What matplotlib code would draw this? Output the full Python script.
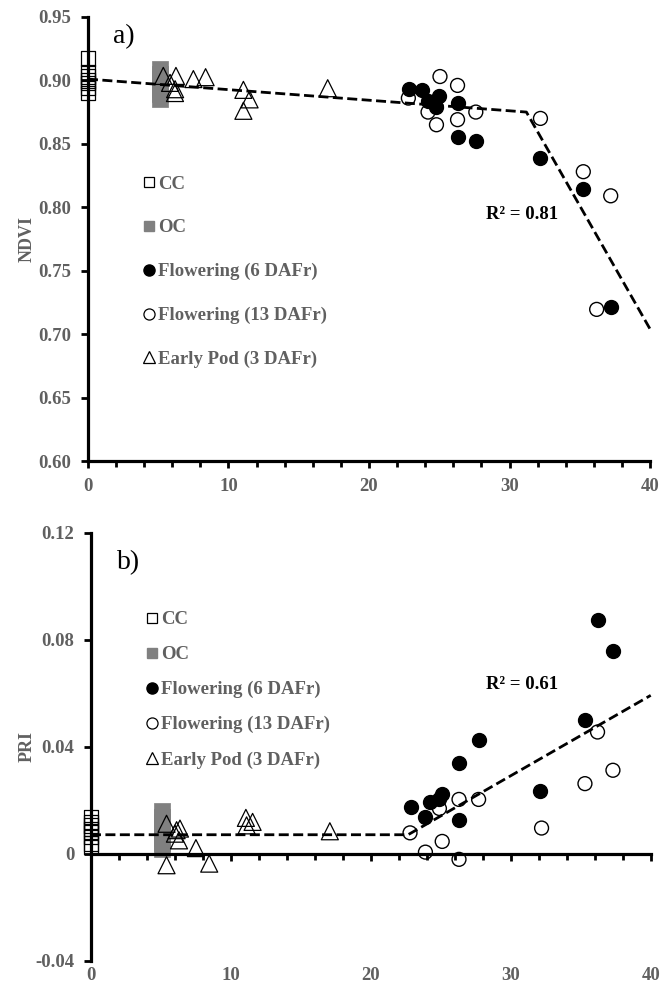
import matplotlib
matplotlib.use("Agg")
import matplotlib.pyplot as plt
from matplotlib.lines import Line2D
import matplotlib.transforms as mtransforms

# ---------------- data ----------------
# Panel a (NDVI)
cc_a = [0.917, 0.906, 0.903, 0.900, 0.898, 0.894, 0.890]
oc_a = [0.885, 0.889, 0.893, 0.897, 0.901, 0.905, 0.909]
oc_x = 5.1
fl6_x_a = [22.85, 23.8, 24.2, 25.0, 24.8, 26.3, 26.3, 27.6, 32.2, 35.25, 37.2]
fl6_y_a = [0.893, 0.892, 0.884, 0.888, 0.879, 0.882, 0.855, 0.852, 0.839, 0.814, 0.721]
fl13_x_a = [22.8, 25.05, 26.3, 24.2, 24.8, 26.3, 27.6, 32.2, 35.25, 37.2, 36.2]
fl13_y_a = [0.886, 0.903, 0.896, 0.875, 0.865, 0.869, 0.875, 0.870, 0.828, 0.809, 0.7195]
ep_x_a = [5.36, 6.26, 5.84, 6.19, 6.2, 7.5, 8.37, 11.06, 11.5, 11.06, 17.06]
ep_y_a = [0.9035, 0.9035, 0.898, 0.890, 0.893, 0.901, 0.9025, 0.8925, 0.885, 0.876, 0.8938]
fit_x_a = [0, 31.2, 40]
fit_y_a = [0.901, 0.875, 0.704]

# Panel b (PRI)
cc_b = [0.0138, 0.012, 0.0107, 0.0094, 0.0082, 0.0064, 0.0039, 0.0026]
oc_b = [0.002, 0.004, 0.006, 0.008, 0.010, 0.012, 0.014, 0.016]
fl6_x_b = [22.86, 23.9, 24.2, 24.9, 25.1, 26.3, 26.3, 27.7, 32.1, 35.3, 37.3, 36.2]
fl6_y_b = [0.0176, 0.0138, 0.0194, 0.0207, 0.0225, 0.034, 0.0126, 0.0425, 0.0234, 0.050, 0.0758, 0.0875]
fl13_x_b = [22.8, 23.9, 24.9, 25.1, 26.3, 26.3, 27.7, 32.2, 35.3, 36.2, 37.3]
fl13_y_b = [0.0079, 0.0007, 0.017, 0.0047, 0.0204, -0.002, 0.0204, 0.0097, 0.0263, 0.0456, 0.0313]
ep_x_b = [5.4, 5.4, 6.12, 6.36, 6.0, 6.29, 7.5, 8.45, 11.07, 11.55, 11.12, 17.07]
ep_y_b = [0.0113, -0.0042, 0.0089, 0.0095, 0.0076, 0.0051, 0.0022, -0.0036, 0.0135, 0.012, 0.0107, 0.0085]
fit_x_b = [0, 22.66, 40]
fit_y_b = [0.0072, 0.0072, 0.0593]

labels = ["CC", "OC", "Flowering (6 DAFr)", "Flowering (13 DAFr)", "Early Pod (3 DAFr)"]
xticks = [0, 10, 20, 30, 40]
yticks_a = [0.60, 0.65, 0.70, 0.75, 0.80, 0.85, 0.90, 0.95]
yticks_b = [-0.04, 0, 0.04, 0.08, 0.12]
yticklabels_b = ["-0.04", "0", "0.04", "0.08", "0.12"]

GRAY = "#606060"
SERIF = "Liberation Serif"
TICK_FS = 13.5
TXT_FS = 13.5

fig = plt.figure(figsize=(6.64, 9.94), dpi=100)
ax_a = fig.add_axes([0.1325, 0.5362, 0.8465, 0.4468])
ax_b = fig.add_axes([0.137, 0.0332, 0.843, 0.4306])


def style_axis(ax):
    for s in ["top", "right"]:
        ax.spines[s].set_visible(False)
    for s in ["left", "bottom"]:
        ax.spines[s].set_linewidth(2.3)
        ax.spines[s].set_color("black")
    ax.tick_params(axis="both", which="major", direction="out", width=2.0, length=5,
                   color="black")
    ax.tick_params(axis="y", which="major", pad=7)
    ax.tick_params(axis="x", which="minor", direction="out", width=2.0, length=4,
                   color="black")
    ax.set_xticks(range(0, 41, 2), minor=True)


def draw_points(ax, cc, oc, f6x, f6y, f13x, f13y, epx, epy, fx, fy):
    ax.plot(fx, fy, ls=(0, (3.6, 1.6)), color="black", lw=2.0, zorder=3, clip_on=False)
    ax.scatter([0] * len(cc), cc, marker="s", s=110, facecolors="none",
               edgecolors="black", linewidths=0.9, zorder=4, clip_on=False)
    ax.scatter([oc_x] * len(oc), oc, marker="s", s=120, facecolors="#808080",
               edgecolors="#808080", linewidths=0.5, zorder=2, clip_on=False)
    ax.scatter(f6x, f6y, marker="o", s=100, facecolors="black", edgecolors="black",
               zorder=4, clip_on=False)
    ax.scatter(f13x, f13y, marker="o", s=100, facecolors="none", edgecolors="black",
               linewidths=1.0, zorder=4, clip_on=False)
    ax.scatter(epx, epy, marker="^", s=150, facecolors="none", edgecolors="black",
               linewidths=0.9, zorder=4, clip_on=False)


def legend(ax, spacing, anchor):
    handles = [
        Line2D([], [], ls="none", marker="s", ms=7, mfc="white", mec="black", mew=0.9),
        Line2D([], [], ls="none", marker="s", ms=7, mfc="#808080", mec="#808080"),
        Line2D([], [], ls="none", marker="o", ms=8, mfc="black", mec="black"),
        Line2D([], [], ls="none", marker="o", ms=8, mfc="white", mec="black", mew=0.9),
        Line2D([], [], ls="none", marker="^", ms=9, mfc="white", mec="black", mew=0.9),
    ]
    leg = ax.legend(handles, labels, loc="upper left", bbox_to_anchor=anchor,
                    frameon=False, handlelength=0.6, handletextpad=0.2,
                    labelspacing=spacing, borderaxespad=0,
                    prop={"family": SERIF, "weight": "bold", "size": TXT_FS})
    for t in leg.get_texts():
        t.set_color(GRAY)


def style_ticklabels(labs):
    for lab in labs:
        lab.set_fontfamily(SERIF)
        lab.set_fontweight("bold")
        lab.set_color(GRAY)
        lab.set_fontsize(TICK_FS)


# ---------------- panel a ----------------
style_axis(ax_a)
draw_points(ax_a, cc_a, oc_a, fl6_x_a, fl6_y_a, fl13_x_a, fl13_y_a,
            ep_x_a, ep_y_a, fit_x_a, fit_y_a)
ax_a.set_xlim(0, 40)
ax_a.set_ylim(0.60, 0.95)
ax_a.set_yticks(yticks_a)
ax_a.set_yticklabels([f"{v:.2f}" for v in yticks_a])
ax_a.set_xticks(xticks)
ax_a.set_xticklabels([str(v) for v in xticks])
ax_a.tick_params(axis="x", which="major", pad=7)
style_ticklabels(ax_a.get_xticklabels() + ax_a.get_yticklabels())
ax_a.set_ylabel("NDVI", family=SERIF, weight="bold", color=GRAY, fontsize=13)
ax_a.yaxis.set_label_coords(-0.093, 0.5)
ax_a.text(0.045, 0.955, "a)", transform=ax_a.transAxes, family=SERIF, fontsize=20,
          ha="left", va="center")
ax_a.text(0.772, 0.556, "R² = 0.81", transform=ax_a.transAxes, family=SERIF,
          weight="bold", fontsize=TXT_FS, ha="center", va="center")
legend(ax_a, 1.42, (0.085, 0.66))

# ---------------- panel b ----------------
style_axis(ax_b)
draw_points(ax_b, cc_b, oc_b, fl6_x_b, fl6_y_b, fl13_x_b, fl13_y_b,
            ep_x_b, ep_y_b, fit_x_b, fit_y_b)
ax_b.set_xlim(0, 40)
ax_b.set_ylim(-0.04, 0.12)
ax_b.spines["bottom"].set_position(("data", 0))
ax_b.set_yticks(yticks_b)
ax_b.set_yticklabels(yticklabels_b)
ax_b.set_xticks(xticks)
ax_b.set_xticklabels([])
style_ticklabels(ax_b.get_yticklabels())
trans = mtransforms.blended_transform_factory(ax_b.transData, ax_b.transAxes)
for v in xticks:
    ax_b.text(v, -0.035, str(v), transform=trans, family=SERIF, weight="bold",
              color=GRAY, fontsize=TICK_FS, ha="center", va="center")
ax_b.set_ylabel("PRI", family=SERIF, weight="bold", color=GRAY, fontsize=13)
ax_b.yaxis.set_label_coords(-0.099, 0.5)
ax_b.text(0.047, 0.93, "b)", transform=ax_b.transAxes, family=SERIF, fontsize=20,
          ha="left", va="center")
ax_b.text(0.77, 0.645, "R² = 0.61", transform=ax_b.transAxes, family=SERIF,
          weight="bold", fontsize=TXT_FS, ha="center", va="center")
legend(ax_b, 0.95, (0.085, 0.835))

fig.savefig("out.png", dpi=100)
